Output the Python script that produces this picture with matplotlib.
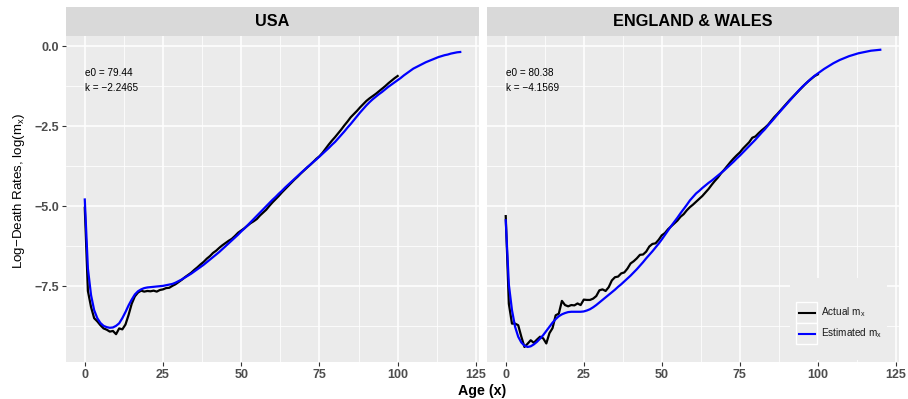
import matplotlib
matplotlib.use("Agg")
import matplotlib.pyplot as plt
from matplotlib.patches import Rectangle
from matplotlib.lines import Line2D

plt.rcParams['font.family'] = ['Liberation Sans', 'DejaVu Sans']

# log death rates
ages_actual = list(range(0, 101))
ages_est = list(range(0, 121))

usa_actual = [
    -5.05, -7.65, -8.15, -8.50, -8.60, -8.72, -8.82, -8.86, -8.92, -8.90,
    -9.00, -8.82, -8.85, -8.70, -8.40, -8.05, -7.82, -7.70, -7.64, -7.67,
    -7.65, -7.66, -7.64, -7.67, -7.62, -7.60, -7.56, -7.55, -7.49, -7.44,
    -7.37, -7.30, -7.22, -7.15, -7.08, -6.99, -6.91, -6.82, -6.74, -6.64,
    -6.56, -6.46, -6.39, -6.30, -6.22, -6.15, -6.08, -6.02, -5.93, -5.83,
    -5.76, -5.69, -5.61, -5.53, -5.47, -5.40, -5.29, -5.20, -5.11, -4.99,
    -4.88, -4.78, -4.68, -4.57, -4.47, -4.37, -4.27, -4.17, -4.08, -3.98,
    -3.89, -3.80, -3.71, -3.62, -3.52, -3.44, -3.33, -3.20, -3.07, -2.95,
    -2.84, -2.72, -2.60, -2.47, -2.35, -2.22, -2.12, -2.02, -1.91, -1.81,
    -1.71, -1.63, -1.56, -1.49, -1.41, -1.33, -1.25, -1.16, -1.08, -1.00,
    -0.93]

usa_est = [
    -4.79, -6.95, -7.78, -8.25, -8.50, -8.65, -8.74, -8.78, -8.80, -8.79,
    -8.74, -8.66, -8.50, -8.31, -8.10, -7.92, -7.76, -7.66, -7.60, -7.56,
    -7.54, -7.53, -7.52, -7.51, -7.50, -7.49, -7.47, -7.45, -7.43, -7.39,
    -7.34, -7.29, -7.23, -7.17, -7.11, -7.04, -6.97, -6.90, -6.83, -6.75,
    -6.67, -6.59, -6.51, -6.43, -6.34, -6.25, -6.16, -6.07, -5.98, -5.89,
    -5.79, -5.70, -5.60, -5.50, -5.40, -5.30, -5.20, -5.10, -5.00, -4.90,
    -4.80, -4.71, -4.61, -4.52, -4.42, -4.33, -4.24, -4.15, -4.06, -3.97,
    -3.88, -3.79, -3.71, -3.62, -3.54, -3.45, -3.36, -3.27, -3.18, -3.08,
    -2.99, -2.88, -2.77, -2.66, -2.54, -2.43, -2.31, -2.19, -2.07, -1.96,
    -1.85, -1.75, -1.66, -1.58, -1.50, -1.43, -1.35, -1.27, -1.20, -1.13,
    -1.06, -0.99, -0.91, -0.84, -0.77, -0.70, -0.65, -0.60, -0.55, -0.50,
    -0.46, -0.42, -0.38, -0.34, -0.31, -0.28, -0.26, -0.23, -0.21, -0.19,
    -0.18]

ew_actual = [
    -5.31, -8.05, -8.67, -8.67, -8.72, -9.08, -9.40, -9.30, -9.19, -9.27,
    -9.17, -9.08, -9.13, -9.29, -8.97, -8.81, -8.41, -8.36, -7.96, -8.09,
    -8.13, -8.09, -8.10, -8.04, -8.09, -7.92, -7.93, -7.93, -7.89, -7.81,
    -7.63, -7.60, -7.65, -7.53, -7.32, -7.22, -7.20, -7.10, -7.07, -6.95,
    -6.79, -6.72, -6.63, -6.52, -6.51, -6.42, -6.26, -6.18, -6.16, -6.05,
    -5.91, -5.84, -5.72, -5.63, -5.54, -5.45, -5.33, -5.25, -5.13, -5.03,
    -4.95, -4.86, -4.77, -4.68, -4.57, -4.46, -4.33, -4.21, -4.10, -3.97,
    -3.86, -3.74, -3.62, -3.51, -3.41, -3.32, -3.20, -3.10, -3.00, -2.86,
    -2.82, -2.72, -2.63, -2.55, -2.46, -2.34, -2.22, -2.12, -2.01, -1.90,
    -1.79, -1.68, -1.58, -1.48, -1.38, -1.28, -1.18, -1.09, -1.01, -0.93,
    -0.88]

ew_est = [
    -5.44, -7.45, -8.25, -8.77, -9.08, -9.26, -9.36, -9.40, -9.38, -9.32,
    -9.24, -9.14, -9.03, -8.90, -8.77, -8.64, -8.53, -8.44, -8.38, -8.34,
    -8.31, -8.30, -8.30, -8.30, -8.30, -8.29, -8.26, -8.22, -8.16, -8.09,
    -8.01, -7.93, -7.85, -7.77, -7.69, -7.61, -7.52, -7.44, -7.35, -7.26,
    -7.17, -7.07, -6.97, -6.86, -6.75, -6.63, -6.52, -6.41, -6.29, -6.17,
    -6.04, -5.90, -5.76, -5.62, -5.49, -5.36, -5.22, -5.09, -4.96, -4.82,
    -4.71, -4.60, -4.52, -4.43, -4.35, -4.27, -4.20, -4.12, -4.04, -3.96,
    -3.88, -3.79, -3.70, -3.61, -3.51, -3.42, -3.32, -3.22, -3.12, -3.02,
    -2.92, -2.81, -2.70, -2.60, -2.48, -2.37, -2.26, -2.14, -2.03, -1.92,
    -1.81, -1.70, -1.59, -1.48, -1.37, -1.27, -1.18, -1.09, -1.00, -0.92,
    -0.85, -0.78, -0.71, -0.65, -0.59, -0.53, -0.48, -0.43, -0.39, -0.35,
    -0.31, -0.28, -0.25, -0.22, -0.20, -0.18, -0.16, -0.14, -0.13, -0.12,
    -0.11]

panels = ["USA", "ENGLAND & WALES"]
e0_values = ["79.44", "80.38"]
k_values = ["\u22122.2465", "\u22124.1569"]
legend_labels = ["Actual m$_\\mathregular{x}$", "Estimated m$_\\mathregular{x}$"]
line_colors = ["black", "#0000FF"]

x_ticks = [0, 25, 50, 75, 100, 125]
y_ticks = [-7.5, -5.0, -2.5, 0.0]
y_tick_labels = ["\u22127.5", "\u22125.0", "\u22122.5", "0.0"]

W, H = 908, 399
fig = plt.figure(figsize=(W / 100, H / 100), dpi=100)
fig.patch.set_facecolor("white")


def fx(px):
    return px / W


def fy(py):
    return 1 - py / H


panel_px = [(66, 479), (487, 899)]
top, bottom = 36, 362
strip_top = 7

series = [(usa_actual, usa_est), (ew_actual, ew_est)]
for i, (x0, x1) in enumerate(panel_px):
    ax = fig.add_axes([fx(x0), fy(bottom), (x1 - x0) / W, (bottom - top) / H])
    ax.set_facecolor("#EBEBEB")
    for s in ax.spines.values():
        s.set_visible(False)
    ax.set_xlim(-6, 126)
    ax.set_ylim(-9.87, 0.32)
    ax.set_xticks(x_ticks)
    ax.set_xticks([12.5, 37.5, 62.5, 87.5, 112.5], minor=True)
    ax.set_yticks(y_ticks)
    ax.set_yticks([-8.75, -6.25, -3.75, -1.25], minor=True)
    ax.grid(which="major", color="white", lw=1.1)
    ax.grid(which="minor", color="white", lw=0.55)
    ax.set_axisbelow(True)
    ax.tick_params(which="major", length=3, width=0.8, color="#333333",
                   labelsize=9, labelcolor="#4D4D4D", pad=2)
    ax.tick_params(which="minor", length=0)
    ax.set_xticklabels([str(t) for t in x_ticks], fontweight="bold")
    if i == 0:
        ax.set_yticklabels(y_tick_labels, fontweight="bold")
    else:
        ax.tick_params(axis="y", which="both", left=False, labelleft=False)

    act, est = series[i]
    ax.plot(ages_actual, act, color=line_colors[0], lw=1.6)
    ax.plot(ages_est, est, color=line_colors[1], lw=1.6)

    ax.text(0, -0.85, "e0 = " + e0_values[i], fontsize=7.2, ha="left", va="center")
    ax.text(0, -1.3, "k = " + k_values[i], fontsize=7.2, ha="left", va="center")

    # facet strip
    fig.add_artist(Rectangle((fx(x0), fy(top)), (x1 - x0) / W, (top - strip_top) / H,
                             transform=fig.transFigure, facecolor="#D9D9D9",
                             edgecolor="none"))
    fig.text(fx((x0 + x1) / 2), fy((top + strip_top) / 2), panels[i],
             ha="center", va="center", fontsize=11.7, fontweight="bold")

# legend inside the right panel, drawn over the grid
fig.add_artist(Rectangle((fx(790), fy(360)), 97 / W, 82 / H,
                         transform=fig.transFigure, facecolor="#EBEBEB",
                         edgecolor="none", zorder=5))
for j, ky in enumerate((302, 323)):
    fig.add_artist(Rectangle((fx(796), fy(ky + 20.5)), 21 / W, 20.5 / H,
                             transform=fig.transFigure, facecolor="#EBEBEB",
                             edgecolor="white", lw=1.0, zorder=6))
    yc = fy(ky + 10.5)
    fig.add_artist(Line2D([fx(798.5), fx(814.5)], [yc, yc], transform=fig.transFigure,
                          color=line_colors[j], lw=1.5, zorder=7))
    fig.text(fx(821), yc, legend_labels[j], ha="left", va="center",
             fontsize=7.2, color="#1A1A1A", zorder=7)

fig.text(fx((66 + 899) / 2), fy(391), "Age (x)", ha="center", va="center",
         fontsize=10.3, fontweight="bold")
fig.text(fx(19), fy(191), "Log\u2212Death Rates, log(m$_\\mathregular{x}$)",
         ha="center", va="center", rotation=90, fontsize=9.6)

fig.savefig("out.png", dpi=100)
